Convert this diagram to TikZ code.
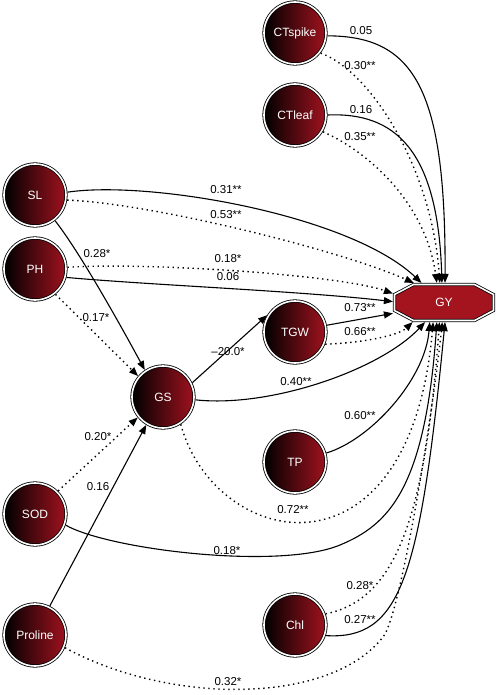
\documentclass[tikz,border=0pt]{standalone}
\usepackage{fontspec}
\setmainfont{Liberation Sans}
\usetikzlibrary{arrows.meta}
\definecolor{dred}{HTML}{A0121F}
\definecolor{gyred}{HTML}{A3141F}
\begin{document}
\begin{tikzpicture}[x=1pt,y=-1pt,
  var/.style={circle, minimum size=62pt, inner sep=0pt, outer sep=1.6pt, draw=black, line width=0.8pt,
    double=white, double distance=1.6pt, left color=black, right color=dred, text=white,
    font=\fontsize{12}{14}\selectfont},
  gyshape/.style={draw=black, line width=0.8pt, double=white, double distance=1.6pt, fill=gyred},
  gybox/.style={rectangle, minimum width=99pt, minimum height=36pt, inner sep=0pt, outer sep=1.6pt,
    text=white, font=\fontsize{12}{14}\selectfont},
  lab/.style={font=\fontsize{11.5}{13}\selectfont, inner sep=0pt},
  sol/.style={line width=1.1pt, -{Triangle[length=9pt,width=7pt]}},
  dot/.style={line width=1.4pt, dash pattern=on 1.4pt off 3.6pt, -{Triangle[length=9pt,width=7pt]}}]
\useasboundingbox (0,0) rectangle (500,695);
% octagon of GY (double border)
\path[gyshape] (413.5,284.5) -- (474.5,284.5) -- (493.5,294.5) -- (493.5,310.5) -- (474.5,320.5)
   -- (413.5,320.5) -- (394.5,310.5) -- (394.5,294.5) -- cycle;
% nodes
\node[var] (CTs) at (295,33) {CTspike};
\node[var] (CTl) at (295,115) {CTleaf};
\node[var] (SL) at (35,195) {SL};
\node[var] (PH) at (35,269) {PH};
\node[var] (GS) at (163,397) {GS};
\node[var] (TGW) at (295,332) {TGW};
\node[var] (TP) at (295,462) {TP};
\node[var] (SOD) at (35,514) {SOD};
\node[var] (Pro) at (35,635) {Proline};
\node[var] (Chl) at (295,625) {Chl};
\node[gybox] (GY) at (444,302.5) {GY};
% edges into GY from top
\draw[sol] (CTs.-5) .. controls (415,36) and (446,90) .. (GY.87);
\draw[dot] (CTs.-38) .. controls (372,72) and (432,170) .. (GY.102);
\draw[sol] (CTl.0) .. controls (395,112) and (438,150) .. (GY.96);
\draw[dot] (CTl.-31) .. controls (365,150) and (425,200) .. (GY.110);
% from left
\draw[sol] (SL.5) .. controls (150,180) and (350,215) .. (GY.139);
\draw[dot] (SL.-9) .. controls (150,203) and (340,250) .. (GY.147);
\draw[dot] (PH.3) .. controls (150,262) and (340,275) .. (GY.170);
\draw[sol] (PH.-15) .. controls (150,285) and (300,291) .. (GY.179);
% into GS
\draw[sol] (SL.-52) .. controls (78,250) and (115,315) .. (GS.124);
\draw[dot] (PH.-51) -- (GS.140);
\draw[dot] (SOD.45) -- (GS.219);
\draw[sol] (Pro.63) -- (GS.239);
% GS and TGW
\draw[sol] (GS.26) -- (TGW.149);
\draw[sol] (TGW.12) -- (GY.192);
\draw[dot] (TGW.-22) .. controls (360,343) and (398,336) .. (GY.212);
\draw[sol] (GS.-5) .. controls (270,408) and (380,370) .. (GY.226);
\draw[dot] (GS.-57) .. controls (215,550) and (410,590) .. (GY.241);
\draw[sol] (TP.16) .. controls (370,440) and (425,380) .. (GY.234);
% from bottom
\draw[sol] (SOD.-20) .. controls (110,550) and (280,570) .. (340,545)
   .. controls (388,525) and (425,490) .. (GY.250);
\draw[dot] (Chl.20) .. controls (395,600) and (425,520) .. (GY.257);
\draw[sol] (Chl.-19) .. controls (400,640) and (420,580) .. (GY.273);
\draw[dot] (Pro.-23) .. controls (170,705) and (330,705) .. (383,637)
   .. controls (400,617) and (432,420) .. (GY.265);
% labels
\node[lab] (l1) at (361,31) {0.05};
\node[lab] (l2) at (360,66) {0.30**};
\node[lab] (l3) at (361,110) {0.16};
\node[lab] (l4) at (360,137) {0.35**};
\node[lab] (l5) at (226,190) {0.31**};
\node[lab] (l6) at (226,215) {0.53**};
\node[lab] (l7) at (97,254) {0.28*};
\node[lab] (l8) at (228,259) {0.18*};
\node[lab] (l9) at (228,277) {0.06};
\node[lab] (l10) at (96,318) {0.17*};
\node[lab] (l11) at (228,352) {--20.0*};
\node[lab] (l12) at (360,308) {0.73**};
\node[lab] (l13) at (360,332) {0.66**};
\node[lab] (l14) at (296,382) {0.40**};
\node[lab] (l15) at (360,416) {0.60**};
\node[lab] (l16) at (98,437) {0.20*};
\node[lab] (l17) at (98,487) {0.16};
\node[lab] (l18) at (293,510) {0.72**};
\node[lab] (l19) at (227,551) {0.18*};
\node[lab] (l20) at (360,586) {0.28*};
\node[lab] (l21) at (360,620) {0.27**};
\node[lab] (l22) at (228,682) {0.32*};
\end{tikzpicture}
\end{document}
